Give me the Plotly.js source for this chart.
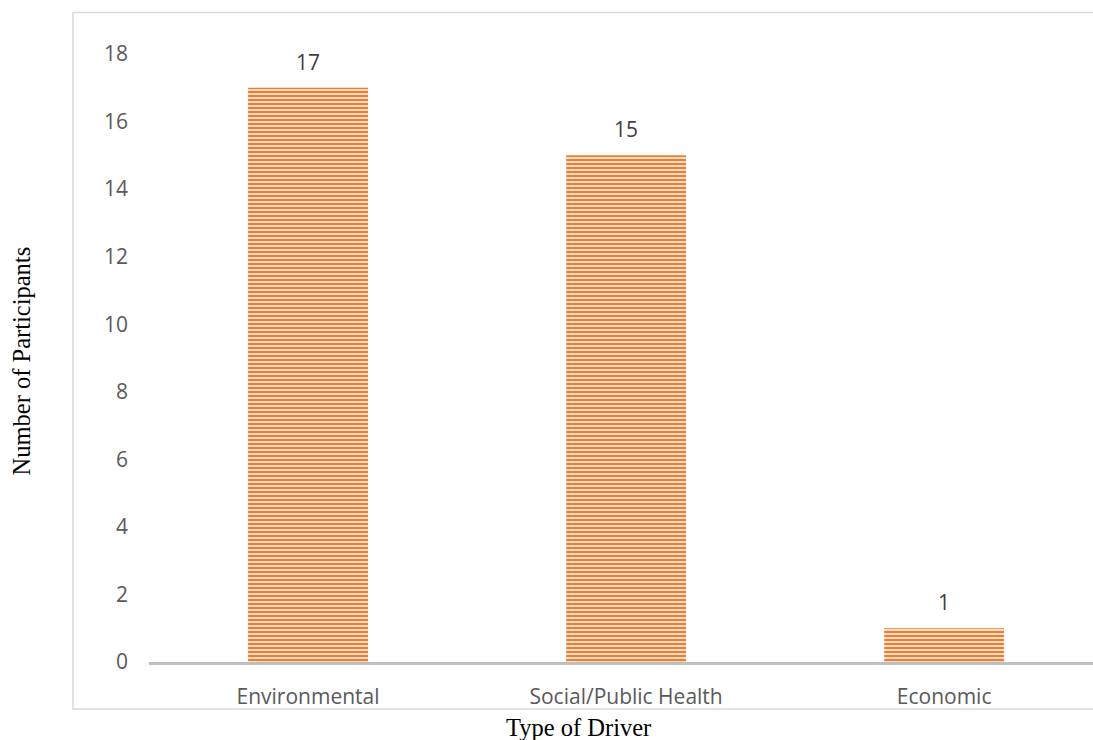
<!DOCTYPE html>
<html>
<head>
<meta charset="utf-8">
<script src="https://cdn.plot.ly/plotly-3.0.1.min.js"></script>
<style>
html,body{margin:0;padding:0;background:#fff;}
#chart{width:1093px;height:740px;}
</style>
</head>
<body>
<div id="chart"></div>
<script>
const categories = ["Environmental", "Social/Public Health", "Economic"];
const participants = [17, 15, 1];
const yTicks = [0, 2, 4, 6, 8, 10, 12, 14, 16, 18];
const xTitle = "Type of Driver";
const yTitle = "Number of Participants";

const trace = {
  type: "bar",
  x: categories,
  y: participants,
  width: 0.377,
  marker: {
    color: "#F8C9A6",
    line: {width: 0},
    pattern: {shape: "-", fgcolor: "#ED7D31", bgcolor: "#FBDCC4", size: 4, solidity: 0.5}
  },
  hoverinfo: "skip"
};

const labelFont = {family: "Open Sans, sans-serif", size: 21, color: "#404040"};
const titleFont = {family: "Liberation Serif, Times New Roman, serif", size: 24.5, color: "#000"};

const annotations = categories.map((c, i) => ({
  x: c, y: participants[i], xref: "x", yref: "y",
  text: String(participants[i]), showarrow: false,
  yanchor: "middle", yshift: 26,
  font: labelFont
}));
annotations.push({
  xref: "paper", yref: "paper", x: 0.4545, y: -0.107,
  xanchor: "center", yanchor: "middle", showarrow: false,
  text: xTitle, font: titleFont
});
annotations.push({
  xref: "paper", yref: "paper", x: -0.1356, y: 0.496,
  xanchor: "center", yanchor: "middle", showarrow: false, textangle: -90,
  text: yTitle, font: titleFont
});

const layout = {
  width: 1093, height: 740,
  margin: {l: 149, r: 0, t: 54, b: 78},
  paper_bgcolor: "#ffffff", plot_bgcolor: "#ffffff",
  showlegend: false,
  xaxis: {
    type: "category",
    range: [-0.5, 2.468],
    showline: true, linecolor: "#BFBFBF", linewidth: 3,
    showgrid: false, zeroline: false, ticks: "",
    tickfont: {family: "Open Sans, sans-serif", size: 21, color: "#595959"},
    ticklabelstandoff: 14
  },
  yaxis: {
    range: [0, 18],
    tickvals: yTicks, ticktext: yTicks.map(String),
    showline: false, showgrid: false, zeroline: false, ticks: "",
    tickfont: {family: "Open Sans, sans-serif", size: 21, color: "#595959"},
    ticklabelstandoff: 20
  },
  annotations: annotations,
  shapes: [{
    type: "rect", xref: "paper", yref: "paper",
    x0: -0.0805, x1: 1.02, y0: -0.0775, y1: 1.0683,
    line: {color: "#D9D9D9", width: 1.5}, fillcolor: "rgba(0,0,0,0)", layer: "below"
  }]
};

Plotly.newPlot("chart", [trace], layout, {displayModeBar: false, staticPlot: true});
</script>
</body>
</html>
